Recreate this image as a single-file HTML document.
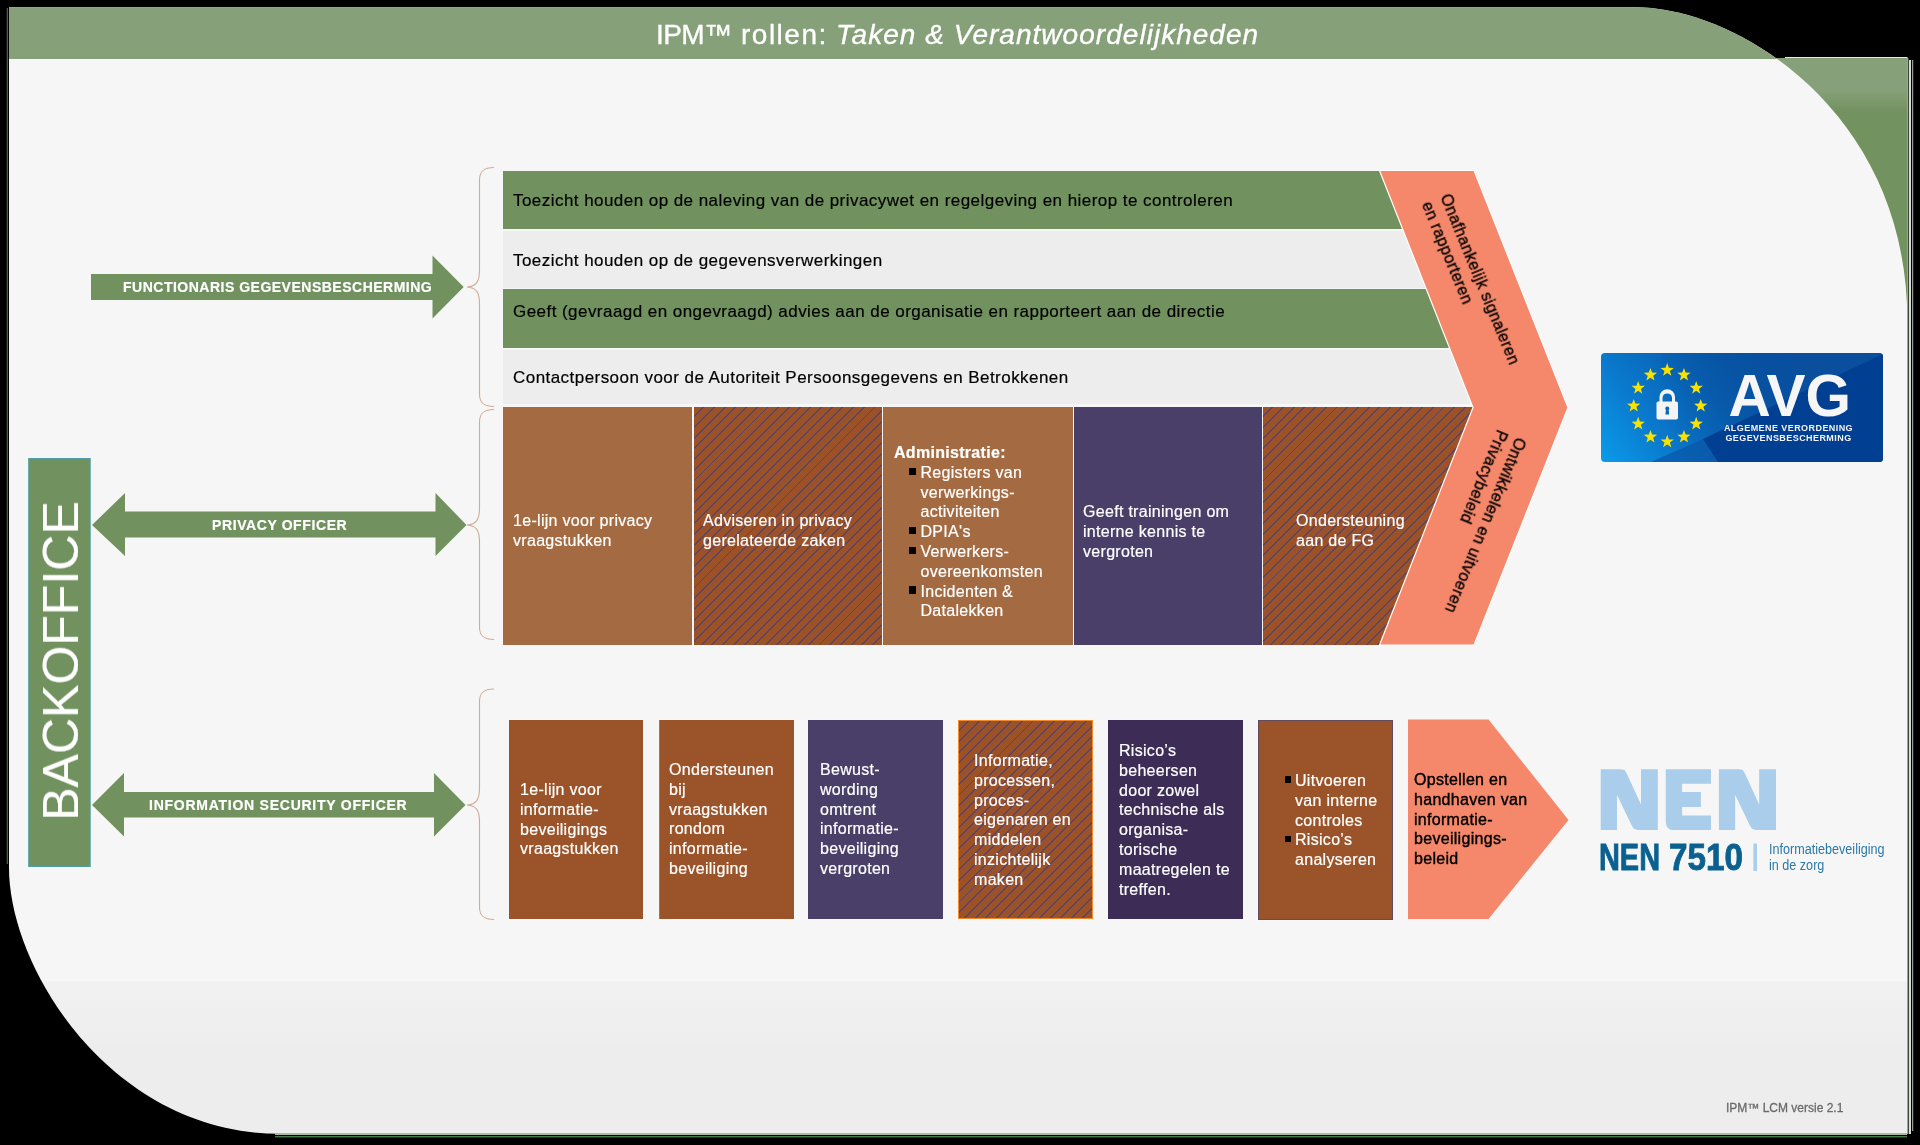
<!DOCTYPE html>
<html><head><meta charset="utf-8">
<style>
html,body{margin:0;padding:0;width:1920px;height:1145px;overflow:hidden;background:#000;}
body{position:relative;font-family:"Liberation Sans",sans-serif;}
.a{position:absolute;}
svg.bg{position:absolute;left:0;top:0;}
.t{position:absolute;white-space:nowrap;font-size:16px;line-height:19.8px;color:#fff;letter-spacing:0.3px;will-change:transform;-webkit-text-stroke:0.2px currentColor;}
.hatch{background:repeating-linear-gradient(135deg,#9b5228 0 6.2px,#5f4462 6.2px 7.57px);}
.blt{position:relative;}
.blt2::before{left:-10.4px !important;width:6.8px !important;height:6.8px !important;top:4.2px !important;}
.blt::before{content:"";position:absolute;left:-11.7px;top:3.8px;width:7.2px;height:7.2px;background:#000;}
</style></head><body>
<svg class="bg" width="1920" height="1145" viewBox="0 0 1920 1145">
  <defs>
    <linearGradient id="gbg" x1="0" y1="0" x2="0" y2="1145" gradientUnits="userSpaceOnUse">
      <stop offset="0.8565" stop-color="#f6f6f6"/>
      <stop offset="0.8575" stop-color="#f1f1f1"/>
      <stop offset="0.909" stop-color="#eeeeee"/>
      <stop offset="0.911" stop-color="#ededed"/>
    </linearGradient>
    <linearGradient id="ggr" x1="0" y1="58" x2="0" y2="310" gradientUnits="userSpaceOnUse">
      <stop offset="0.13" stop-color="#86a079"/>
      <stop offset="0.21" stop-color="#72925f"/>
    </linearGradient>
    <clipPath id="main"><path d="M9,7.3 H1635 C1738.7,7.3 1907.3,113.6 1907.3,320 V1133.8 H280 C112,1133.8 9,969 9,868 Z"/></clipPath>
  </defs>
  <rect x="1700" y="58" width="207.3" height="270" fill="url(#ggr)"/>
  <path d="M9,7.3 H1635 C1738.7,7.3 1907.3,113.6 1907.3,320 V1133.8 H280 C112,1133.8 9,969 9,868 Z" fill="url(#gbg)"/>
  <rect x="9" y="7" width="1900" height="52" fill="#86a079" clip-path="url(#main)"/>
  
  <path d="M1785,57.5 H1907.5" fill="none" stroke="#e8e8e8" stroke-width="1"/>
  <path d="M1907.7,58 V1134" fill="none" stroke="#98aa8e" stroke-width="1.4"/>
  <path d="M1910,60 V1134" fill="none" stroke="#d8dcd6" stroke-width="2"/>
  <path d="M1912.7,60 V1131" fill="none" stroke="#f0f0f0" stroke-width="0.8"/>
  <path d="M275,1134.3 H1907" fill="none" stroke="#a9bb9f" stroke-width="1.4"/>
  <path d="M275,1136.8 H1907" fill="none" stroke="#72c072" stroke-width="0.9"/>
  <path d="M7.3,8 V864" fill="none" stroke="#6fa06f" stroke-width="0.8"/>
</svg>
<div class="t" style="left:656px;top:14.5px;font-size:28px;line-height:40px;letter-spacing:-0.6px;-webkit-text-stroke:0.35px #fff;">IPM™</div>
<div class="t" style="left:741px;top:14.5px;font-size:28px;line-height:40px;letter-spacing:1.5px;-webkit-text-stroke:0.35px #fff;">rollen:</div>
<div class="t" style="left:836px;top:14.5px;font-size:28px;line-height:40px;letter-spacing:1.03px;font-style:italic;-webkit-text-stroke:0.35px #fff;">Taken &amp; Verantwoordelijkheden</div>

<!-- FG rows -->
<div class="a" style="left:503px;top:170.8px;width:972px;height:58.6px;background:#71925f;"></div>
<div class="a" style="left:503px;top:231.2px;width:972px;height:56.7px;background:#ededed;"></div>
<div class="a" style="left:503px;top:289.4px;width:972px;height:59px;background:#71925f;"></div>
<div class="a" style="left:503px;top:350.2px;width:972px;height:54.3px;background:#ededed;"></div>
<div class="t" style="left:513px;top:191px;color:#000;font-size:17px;line-height:20px;letter-spacing:0.45px;">Toezicht houden op de naleving van de privacywet en regelgeving en hierop te controleren</div>
<div class="t" style="left:513px;top:250.9px;color:#000;font-size:17px;line-height:20px;letter-spacing:0.45px;">Toezicht houden op de gegevensverwerkingen</div>
<div class="t" style="left:513px;top:301.7px;color:#000;font-size:17px;line-height:20px;letter-spacing:0.45px;">Geeft (gevraagd en ongevraagd) advies aan de organisatie en rapporteert aan de directie</div>
<div class="t" style="left:513px;top:368.2px;color:#000;font-size:17px;line-height:20px;letter-spacing:0.45px;">Contactpersoon voor de Autoriteit Persoonsgegevens en Betrokkenen</div>
<!-- PO boxes -->
<div class="a" style="left:503px;top:407px;width:189px;height:238px;background:#a46b42;"></div>
<div class="a hatch" style="left:694px;top:407px;width:188px;height:238px;"></div>
<div class="a" style="left:883px;top:407px;width:190px;height:238px;background:#a46b42;"></div>
<div class="a" style="left:1074px;top:407px;width:188px;height:238px;background:#4a3f68;"></div>
<div class="a hatch" style="left:1263px;top:407px;width:212px;height:238px;"></div>
<div class="t" style="left:513px;top:511px;">1e-lijn voor privacy<br>vraagstukken</div>
<div class="t" style="left:703px;top:511px;">Adviseren in privacy<br>gerelateerde zaken</div>
<div class="t" style="left:893.5px;top:442.5px;"><b>Administratie:</b><br>
<div style="margin-left:26.5px"><span class="blt">Registers van</span><br>verwerkings-<br>activiteiten<br><span class="blt">DPIA's</span><br><span class="blt">Verwerkers-</span><br>overeenkomsten<br><span class="blt">Incidenten &amp;</span><br>Datalekken</div></div>
<div class="t" style="left:1083px;top:501.5px;">Geeft trainingen om<br>interne kennis te<br>vergroten</div>
<div class="t" style="left:1296px;top:510.6px;">Ondersteuning<br>aan de FG</div>
<!-- Chevron -->
<svg class="a" style="left:0;top:0" width="1920" height="1145">
  <polygon points="1379.5,170.5 1474,170.5 1568,407.5 1474,645 1379.5,645 1473,407.5" fill="#f5876a" stroke="#ffffff" stroke-width="1.2"/>
</svg>
<div class="t" style="left:1454.4px;top:190.8px;color:#000;line-height:20px;letter-spacing:0.33px;-webkit-text-stroke:0.3px #000;transform-origin:0 0;transform:rotate(67.6deg);">Onafhankelijk signaleren<br>en rapporteren</div>
<div class="t" style="left:1530px;top:442.4px;color:#000;line-height:20px;letter-spacing:0.36px;-webkit-text-stroke:0.3px #000;transform-origin:0 0;transform:rotate(112.3deg);">Ontwikkelen en uitvoeren<br>Privacybeleid</div>

<!-- braces -->
<svg class="a" style="left:0;top:0" width="1920" height="1145">
  <g fill="none" stroke="#d2ab96" stroke-width="1.1">
    <path d="M494,167.5 C484,167.5 479.5,171 479.5,180 V270 C479.5,282 476,286.5 467,287 C476,287.5 479.5,292 479.5,304 V394 C479.5,403 484,406.5 494,406.5"/>
    <path d="M494,409.5 C484,409.5 479.5,413 479.5,422 V508 C479.5,520 476,524.5 467,525 C476,525.5 479.5,530 479.5,542 V627 C479.5,636 484,639.5 494,639.5"/>
    <path d="M494,689 C484,689 479.5,692.5 479.5,701.5 V788 C479.5,800 476,804.5 467,805 C476,805.5 479.5,810 479.5,822 V907 C479.5,916 484,919.5 494,919.5"/>
  </g>
  <!-- arrows -->
  <g fill="#71925f">
    <polygon points="91,274 432.5,274 432.5,255.5 463.7,287 432.5,318.5 432.5,300 91,300"/>
    <polygon points="92,525 125,493 125,511.5 435.5,511.5 435.5,493 466.5,525 435.5,556 435.5,537.5 125,537.5 125,556"/>
    <polygon points="92,805 124,773 124,792 434,792 434,773 465.5,805 434,836.5 434,817.5 124,817.5 124,836.5"/>
  </g>
  <rect x="28.7" y="458.5" width="61.5" height="408" fill="#71925f" stroke="#4fa0a8" stroke-width="1"/>
</svg>
<div class="a" style="left:91px;top:278px;width:341px;text-align:center;"></div>
<div class="t" style="left:123px;top:278.5px;font-weight:bold;font-size:14px;line-height:17px;letter-spacing:0.5px;">FUNCTIONARIS GEGEVENSBESCHERMING</div>
<div class="t" style="left:212px;top:516.5px;font-weight:bold;font-size:14px;line-height:17px;letter-spacing:0.6px;">PRIVACY OFFICER</div>
<div class="t" style="left:149px;top:796.5px;font-weight:bold;font-size:14px;line-height:17px;letter-spacing:0.75px;">INFORMATION SECURITY OFFICER</div>
<div class="t" style="left:60.5px;top:661px;font-size:50px;line-height:50px;letter-spacing:0;transform:translate(-50%,-50%) rotate(-90deg);">BACKOFFICE</div>
<!-- ISO boxes -->
<div class="a" style="left:509px;top:719.5px;width:134px;height:199.5px;background:#9b5429;"></div>
<div class="a" style="left:658.5px;top:719.5px;width:134px;height:199.5px;background:#9b5429;border-left:1px solid #6f9160;"></div>
<div class="a" style="left:808px;top:719.5px;width:135px;height:199.5px;background:#4a3f68;"></div>
<div class="a hatch" style="left:958px;top:719.5px;width:133px;height:197.5px;border:1px solid #f08a2a;border-width:0.8px;"></div>
<div class="a" style="left:1108px;top:719.5px;width:135px;height:199.5px;background:#3d2d56;"></div>
<div class="a" style="left:1258px;top:719.5px;width:133px;height:198px;background:#9b5429;border:1px solid #654a5e;"></div>
<svg class="a" style="left:0;top:0" width="1920" height="1145">
  <polygon points="1408,719.5 1488.5,719.5 1568.5,820 1488.5,919 1408,919" fill="#f5876a"/>
</svg>
<div class="t" style="left:520px;top:779.5px;">1e-lijn voor<br>informatie-<br>beveiligings<br>vraagstukken</div>
<div class="t" style="left:669px;top:759.5px;">Ondersteunen<br>bij<br>vraagstukken<br>rondom<br>informatie-<br>beveiliging</div>
<div class="t" style="left:819.5px;top:759.5px;">Bewust-<br>wording<br>omtrent<br>informatie-<br>beveiliging<br>vergroten</div>
<div class="t" style="left:974px;top:751.2px;">Informatie,<br>processen,<br>proces-<br>eigenaren en<br>middelen<br>inzichtelijk<br>maken</div>
<div class="t" style="left:1119px;top:740.5px;">Risico’s<br>beheersen<br>door zowel<br>technische als<br>organisa-<br>torische<br>maatregelen te<br>treffen.</div>
<div class="t" style="left:1295px;top:770.5px;"><span class="blt blt2">Uitvoeren</span><br>van interne<br>controles<br><span class="blt blt2">Risico’s</span><br>analyseren</div>
<div class="t" style="left:1414px;top:770.1px;color:#000;-webkit-text-stroke:0.4px #000;">Opstellen en<br>handhaven van<br>informatie-<br>beveiligings-<br>beleid</div>
<div class="t" style="left:1726px;top:1100px;color:#6b6b6b;font-size:12px;line-height:16px;letter-spacing:0;-webkit-text-stroke:0.3px #6b6b6b;">IPM™ LCM versie 2.1</div>

<!-- AVG badge -->
<svg class="a" style="left:1601px;top:353px" width="282" height="109" viewBox="0 0 282 109">
  <defs>
    <linearGradient id="avg1" x1="0" y1="109" x2="150" y2="0" gradientUnits="userSpaceOnUse">
      <stop offset="0" stop-color="#0a9bea"/>
      <stop offset="0.35" stop-color="#0a78cc"/>
      <stop offset="0.7" stop-color="#0760b2"/>
      <stop offset="1" stop-color="#0552a3"/>
    </linearGradient>
    <linearGradient id="avg2" x1="60" y1="60" x2="200" y2="0" gradientUnits="userSpaceOnUse"><stop offset="0" stop-color="#0a4f9e" stop-opacity="0"/><stop offset="1" stop-color="#0a4f9e" stop-opacity="0.9"/></linearGradient>
    <clipPath id="avgc"><rect x="0" y="0" width="282" height="109" rx="4"/></clipPath>
  </defs>
  <g clip-path="url(#avgc)">
    <rect x="0" y="0" width="282" height="109" fill="url(#avg1)"/>
    <rect x="60" y="0" width="222" height="109" fill="url(#avg2)"/>
    <polygon points="50,109 102,86 282,1 282,109" fill="#0a55a6" opacity="0.7"/>
    <polygon points="102,86 282,1 282,109 117,109" fill="#003f91"/>
  </g>
  <g fill="#f7e200"><polygon points="66.20,10.10 67.88,14.79 72.86,14.94 68.91,17.98 70.31,22.76 66.20,19.95 62.09,22.76 63.49,17.98 59.54,14.94 64.52,14.79"/><polygon points="82.95,14.90 84.63,19.59 89.61,19.73 85.66,22.78 87.06,27.56 82.95,24.75 78.84,27.56 80.24,22.78 76.29,19.73 81.27,19.59"/><polygon points="95.21,28.00 96.89,32.69 101.87,32.84 97.92,35.88 99.33,40.66 95.21,37.85 91.10,40.66 92.50,35.88 88.55,32.84 93.54,32.69"/><polygon points="99.70,45.90 101.38,50.59 106.36,50.74 102.41,53.78 103.81,58.56 99.70,55.75 95.59,58.56 96.99,53.78 93.04,50.74 98.02,50.59"/><polygon points="95.21,63.80 96.89,68.49 101.87,68.64 97.92,71.68 99.33,76.46 95.21,73.65 91.10,76.46 92.50,71.68 88.55,68.64 93.54,68.49"/><polygon points="82.95,76.90 84.63,81.60 89.61,81.74 85.66,84.78 87.06,89.57 82.95,86.75 78.84,89.57 80.24,84.78 76.29,81.74 81.27,81.60"/><polygon points="66.20,81.70 67.88,86.39 72.86,86.54 68.91,89.58 70.31,94.36 66.20,91.55 62.09,94.36 63.49,89.58 59.54,86.54 64.52,86.39"/><polygon points="49.45,76.90 51.13,81.60 56.11,81.74 52.16,84.78 53.56,89.57 49.45,86.75 45.34,89.57 46.74,84.78 42.79,81.74 47.77,81.60"/><polygon points="37.19,63.80 38.86,68.49 43.85,68.64 39.90,71.68 41.30,76.46 37.19,73.65 33.07,76.46 34.48,71.68 30.53,68.64 35.51,68.49"/><polygon points="32.70,45.90 34.38,50.59 39.36,50.74 35.41,53.78 36.81,58.56 32.70,55.75 28.59,58.56 29.99,53.78 26.04,50.74 31.02,50.59"/><polygon points="37.19,28.00 38.86,32.69 43.85,32.84 39.90,35.88 41.30,40.66 37.19,37.85 33.07,40.66 34.48,35.88 30.53,32.84 35.51,32.69"/><polygon points="49.45,14.90 51.13,19.59 56.11,19.73 52.16,22.78 53.56,27.56 49.45,24.75 45.34,27.56 46.74,22.78 42.79,19.73 47.77,19.59"/></g>
  <g fill="#f4f4f4">
    <path d="M58.5,49 V44 A7.7,7.7 0 0 1 74,44 V49 H71 V44.5 A4.8,4.8 0 0 0 61.5,44.5 V49 Z"/>
    <rect x="55.5" y="48.5" width="21.5" height="18" rx="1.8"/>
  </g>
  <path d="M66.3,53.5 a2.1,2.1 0 0 1 1.4,3.6 l0.5,4.4 h-3.8 l0.5,-4.4 a2.1,2.1 0 0 1 1.4,-3.6 Z" fill="#0567b8"/>
</svg>
<div class="a" style="left:1728.5px;top:366.3px;width:122px;text-align:center;color:#f6f6f6;font-weight:bold;font-size:58.5px;line-height:60px;white-space:nowrap;">AVG</div>
<div class="a" style="left:1688px;top:422.7px;width:201px;text-align:center;color:#f4f4f4;font-weight:bold;font-size:9px;line-height:10.7px;letter-spacing:0.43px;white-space:nowrap;">ALGEMENE VERORDENING<br>GEGEVENSBESCHERMING</div>
<!-- NEN logo -->
<svg class="a" style="left:0;top:0" width="1920" height="1145">
  <path d="M1600.74,769.13 L1620.93,769.13 L1624.69,769.92 L1626.87,773.68 L1641.02,804.55 L1641.02,769.13 L1657.84,769.13 L1657.84,830.09 L1637.55,830.09 L1633.79,828.80 L1631.62,825.33 L1616.97,794.66 L1616.97,830.09 L1600.74,830.09 Z M1665.76,769.13 L1710.98,769.13 L1710.98,783.77 L1682.09,783.77 L1682.09,791.89 L1700.89,791.89 L1700.89,807.03 L1682.09,807.03 L1682.09,815.44 L1710.98,815.44 L1710.98,830.09 L1674.17,830.09 Q1665.76,830.09 1665.76,821.38 Z M1718.90,769.13 L1739.09,769.13 L1742.85,769.92 L1745.03,773.68 L1759.18,804.55 L1759.18,769.13 L1776.00,769.13 L1776.00,830.09 L1755.71,830.09 L1751.95,828.80 L1749.78,825.33 L1735.13,794.66 L1735.13,830.09 L1718.90,830.09 Z" fill="#a9cdeb"/>
  <rect x="1753.4" y="843.6" width="3.6" height="27.4" fill="#a9cdeb"/>
</svg>
<div class="a" style="left:1599px;top:836px;color:#0a6190;font-weight:bold;font-size:37.3px;line-height:42px;white-space:nowrap;-webkit-text-stroke:0.9px #0a6190;transform-origin:0 0;transform:scaleX(0.775);">NEN</div>
<div class="a" style="left:1668.5px;top:836px;color:#0a6190;font-weight:bold;font-size:37.3px;line-height:42px;white-space:nowrap;-webkit-text-stroke:0.9px #0a6190;transform-origin:0 0;transform:scaleX(0.89);">7510</div>
<div class="a" style="left:1769px;top:841px;color:#2a79a8;font-size:14px;line-height:16.2px;white-space:nowrap;transform-origin:0 0;transform:scaleX(0.9);">Informatiebeveiliging<br>in de zorg</div>
</body></html>
